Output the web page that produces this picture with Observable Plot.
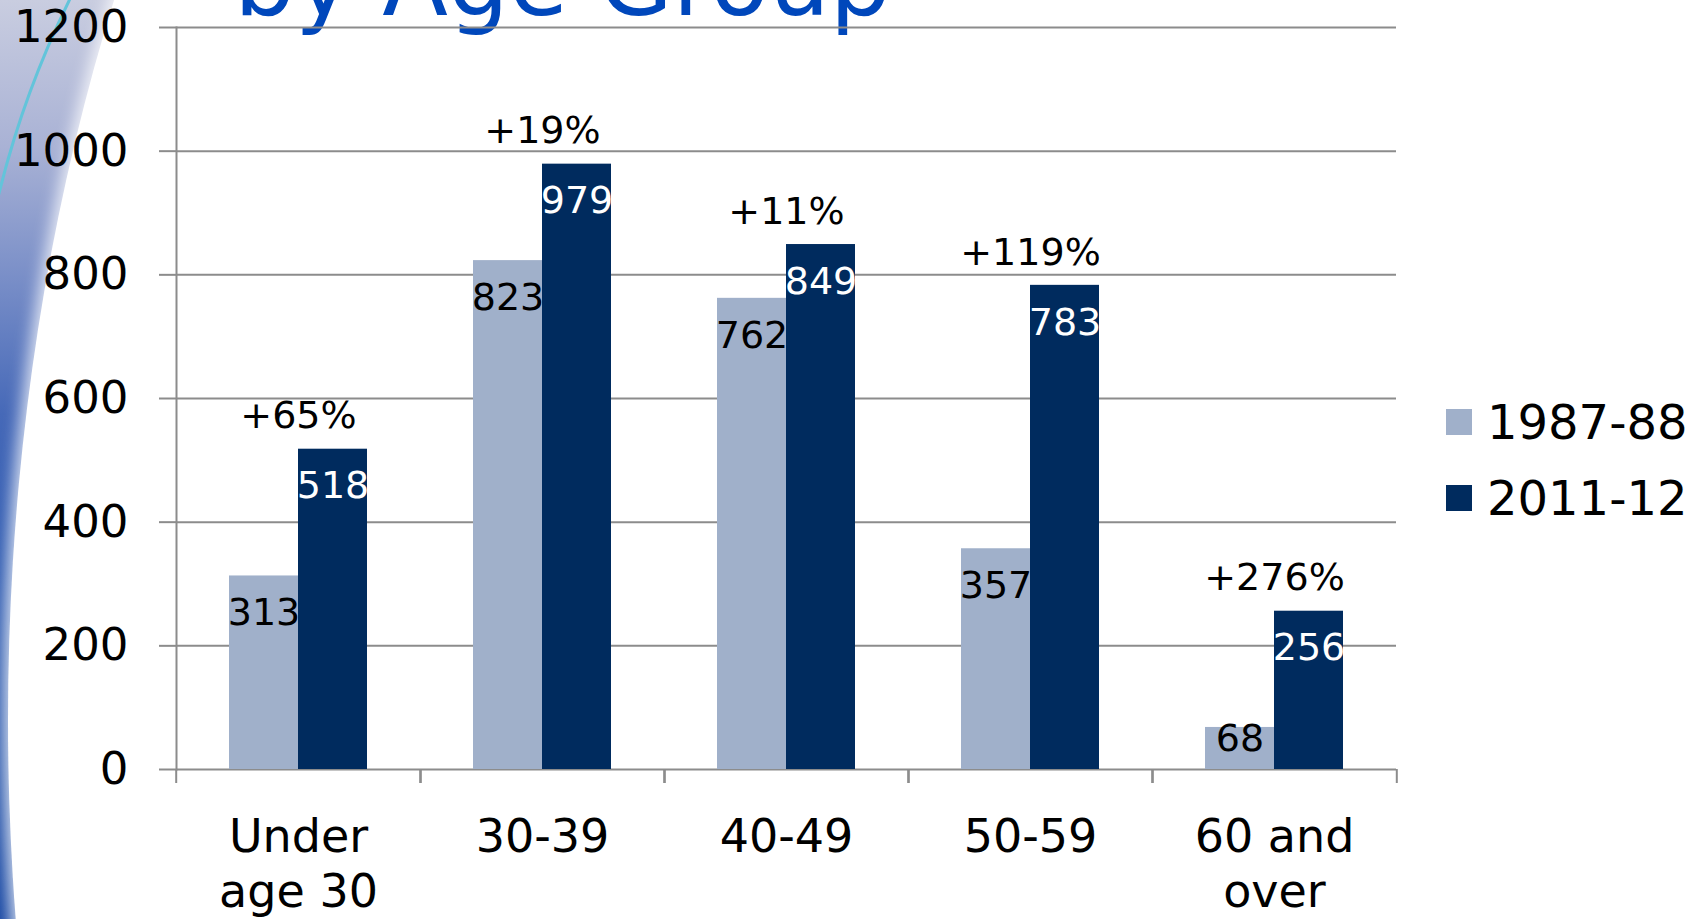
<!DOCTYPE html>
<html><head><meta charset="utf-8">
<script src="https://cdn.jsdelivr.net/npm/d3@7"></script>
<script src="https://cdn.jsdelivr.net/npm/@observablehq/plot@0.6"></script>
<style>
html,body{margin:0;padding:0;background:#fff;}
#stage{position:relative;width:1705px;height:919px;overflow:hidden;font-family:"DejaVu Sans",Verdana,sans-serif;background:#fff;}
#bg{position:absolute;left:0;top:0;width:300px;height:919px;
  background:linear-gradient(to bottom,#c9cde0 0%,#a9b2d5 16%,#7a8fc8 30%,#4669b8 45%,#2f5bb1 62%,#2453aa 82%,#1a49a4 100%);}
#cyanclip{position:absolute;left:0;top:0;width:300px;height:300px;overflow:hidden;}
#cyan{position:absolute;left:-30px;top:-554px;width:2000px;height:1948px;border-radius:50%;border:3px solid #63c4da;box-sizing:border-box;}
#white{position:absolute;left:8px;top:-886px;width:2000px;height:3212px;border-radius:50%;background:#fff;
  box-shadow:0 0 16px 5px rgba(255,255,255,0.8);}
#title{position:absolute;left:234px;top:-66px;font-size:96px;line-height:96px;color:#0047bb;white-space:nowrap;}
#chart{position:absolute;left:0;top:0;}
#legend{position:absolute;left:1446px;top:0;}
.item{position:absolute;left:0;display:flex;align-items:center;white-space:nowrap;font-size:48px;color:#000;height:60px;}
.sw{width:26px;height:26px;margin-right:15px;}
</style></head>
<body><div id="stage">
<div id="bg"></div><div id="cyanclip"><div id="cyan"></div></div><div id="white"></div>
<div id="title">by Age Group</div>
<div id="chart"></div>
<div id="legend"></div>
</div>
<script>
const categories = ["Under age 30", "30-39", "40-49", "50-59", "60 and over"];
const tickLabels = ["Under\nage 30", "30-39", "40-49", "50-59", "60 and\nover"];
const seriesNames = ["1987-88", "2011-12"];
const values1987 = [313, 823, 762, 357, 68];
const values2011 = [518, 979, 849, 783, 256];
const pctLabels = ["+65%", "+19%", "+11%", "+119%", "+276%"];
const colors = ["#a0b0ca", "#002b5e"];
const yTicks = [0, 200, 400, 600, 800, 1000, 1200];

const rows = categories.flatMap((c, i) => [
  {category: c, series: seriesNames[0], value: values1987[i]},
  {category: c, series: seriesNames[1], value: values2011[i]}
]);
const pcts = categories.map((c, i) => ({category: c, value: values2011[i], label: pctLabels[i]}));

const W = 1705, H = 919, mL = 174, mR = 308, mT = 27, mB = 150;
const step = (W - mL - mR) / categories.length;
const gridColor = "#8c8c8c";
const font = '"DejaVu Sans", Verdana, sans-serif';
const yMax = 1200;
const pxPerUnit = (H - mT - mB) / yMax;
const labelDy = 37, labelSize = 38;
// like Excel, keep an inside-end label from sinking below the axis
const minLabelValue = (labelDy + labelSize * 0.8) / pxPerUnit;
const labelY = d => Math.max(d.value, minLabelValue);

const chart = Plot.plot({
  width: W, height: H,
  marginLeft: mL, marginRight: mR, marginTop: mT, marginBottom: mB,
  style: {fontFamily: font, background: "transparent", color: "#000", overflow: "visible"},
  fx: {domain: categories, padding: 0, label: null},
  x: {domain: seriesNames, paddingInner: 0, paddingOuter: 0.747, axis: null},
  y: {domain: [0, yMax], label: null},
  color: {domain: seriesNames, range: colors},
  marks: [
    Plot.gridY(yTicks, {stroke: gridColor, strokeOpacity: 1, strokeWidth: 2}),
    Plot.axisY(yTicks, {tickSize: 17, tickPadding: 31, stroke: gridColor, strokeWidth: 2, fontSize: 45, label: null, tickFormat: d => String(d)}),
    Plot.frame({anchor: "left", facetAnchor: "left", stroke: gridColor, strokeWidth: 2}),
    Plot.barY(rows, {fx: "category", x: "series", y: "value", fill: "series"}),
    Plot.text(rows.filter(d => d.series === seriesNames[0]), {fx: "category", x: "series", y: labelY, text: d => String(d.value), fill: "#000", dy: labelDy, fontSize: labelSize}),
    Plot.text(rows.filter(d => d.series === seriesNames[1]), {fx: "category", x: "series", y: labelY, text: d => String(d.value), fill: "#fff", dy: labelDy, fontSize: labelSize}),
    Plot.text(pcts, {fx: "category", y: "value", text: "label", dy: -33, fontSize: labelSize, fill: "#000"}),
    Plot.axisFx({anchor: "bottom", tickSize: 0, tickPadding: 43, fontSize: 46, lineHeight: 1.2, label: null, tickFormat: d => tickLabels[categories.indexOf(d)]}),
    Plot.axisFx({anchor: "bottom", tickSize: 14, dx: -step / 2, stroke: gridColor, strokeWidth: 2, label: null, tickFormat: () => ""}),
    Plot.axisFx({anchor: "bottom", tickSize: 14, dx: step / 2, stroke: gridColor, strokeWidth: 2, label: null, tickFormat: () => ""})
  ]
});
document.getElementById("chart").appendChild(chart);

const legend = document.getElementById("legend");
const legendTops = [392, 468];
seriesNames.forEach((s, i) => {
  const item = document.createElement("div");
  item.className = "item";
  item.style.top = legendTops[i] + "px";
  const sw = document.createElement("div");
  sw.className = "sw";
  sw.style.background = colors[i];
  const t = document.createElement("span");
  t.textContent = s;
  item.appendChild(sw); item.appendChild(t);
  legend.appendChild(item);
});
</script>
</body></html>
